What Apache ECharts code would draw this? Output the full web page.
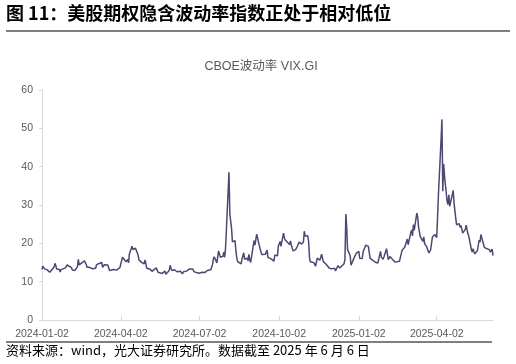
<!DOCTYPE html>
<html>
<head>
<meta charset="utf-8">
<script src="https://cdn.jsdelivr.net/npm/echarts@6/dist/echarts.min.js"></script>
<style>
html,body{margin:0;padding:0;background:#fff;}
#c{width:516px;height:364px;}
</style>
</head>
<body>
<div id="c"></div>
<script>
const heading = '图 11：美股期权隐含波动率指数正处于相对低位';
const chartTitle = 'CBOE波动率 VIX.GI';
const footnote = '资料来源：wind，光大证券研究所。数据截至 2025 年 6 月 6 日';
const tickDates = ['2024-01-02','2024-04-02','2024-07-02','2024-10-02','2025-01-02','2025-04-02'];
const yTicks = [0, 10, 20, 30, 40, 50, 60];

const dates = [
'2024-01-02','2024-01-03','2024-01-04','2024-01-05','2024-01-08','2024-01-09','2024-01-10','2024-01-11','2024-01-12','2024-01-16','2024-01-17','2024-01-18','2024-01-19','2024-01-22','2024-01-23','2024-01-24','2024-01-25','2024-01-26','2024-01-29','2024-01-30','2024-01-31',
'2024-02-01','2024-02-02','2024-02-05','2024-02-06','2024-02-07','2024-02-08','2024-02-09','2024-02-12','2024-02-13','2024-02-14','2024-02-15','2024-02-16','2024-02-20','2024-02-21','2024-02-22','2024-02-23','2024-02-26','2024-02-27','2024-02-28','2024-02-29',
'2024-03-01','2024-03-04','2024-03-05','2024-03-06','2024-03-07','2024-03-08','2024-03-11','2024-03-12','2024-03-13','2024-03-14','2024-03-15','2024-03-18','2024-03-19','2024-03-20','2024-03-21','2024-03-22','2024-03-25','2024-03-26','2024-03-27','2024-03-28',
'2024-04-01','2024-04-02','2024-04-03','2024-04-04','2024-04-05','2024-04-08','2024-04-09','2024-04-10','2024-04-11','2024-04-12','2024-04-15','2024-04-16','2024-04-17','2024-04-18','2024-04-19','2024-04-22','2024-04-23','2024-04-24','2024-04-25','2024-04-26','2024-04-29','2024-04-30',
'2024-05-01','2024-05-02','2024-05-03','2024-05-06','2024-05-07','2024-05-08','2024-05-09','2024-05-10','2024-05-13','2024-05-14','2024-05-15','2024-05-16','2024-05-17','2024-05-20','2024-05-21','2024-05-22','2024-05-23','2024-05-24','2024-05-28','2024-05-29','2024-05-30','2024-05-31',
'2024-06-03','2024-06-04','2024-06-05','2024-06-06','2024-06-07','2024-06-10','2024-06-11','2024-06-12','2024-06-13','2024-06-14','2024-06-17','2024-06-18','2024-06-20','2024-06-21','2024-06-24','2024-06-25','2024-06-26','2024-06-27','2024-06-28',
'2024-07-01','2024-07-02','2024-07-03','2024-07-05','2024-07-08','2024-07-09','2024-07-10','2024-07-11','2024-07-12','2024-07-15','2024-07-16','2024-07-17','2024-07-18','2024-07-19','2024-07-22','2024-07-23','2024-07-24','2024-07-25','2024-07-26','2024-07-29','2024-07-30','2024-07-31',
'2024-08-01','2024-08-02','2024-08-05','2024-08-06','2024-08-07','2024-08-08','2024-08-09','2024-08-12','2024-08-13','2024-08-14','2024-08-15','2024-08-16','2024-08-19','2024-08-20','2024-08-21','2024-08-22','2024-08-23','2024-08-26','2024-08-27','2024-08-28','2024-08-29','2024-08-30',
'2024-09-03','2024-09-04','2024-09-05','2024-09-06','2024-09-09','2024-09-10','2024-09-11','2024-09-12','2024-09-13','2024-09-16','2024-09-17','2024-09-18','2024-09-19','2024-09-20','2024-09-23','2024-09-24','2024-09-25','2024-09-26','2024-09-27','2024-09-30',
'2024-10-01','2024-10-02','2024-10-03','2024-10-04','2024-10-07','2024-10-08','2024-10-09','2024-10-10','2024-10-11','2024-10-14','2024-10-15','2024-10-16','2024-10-17','2024-10-18','2024-10-21','2024-10-22','2024-10-23','2024-10-24','2024-10-25','2024-10-28','2024-10-29','2024-10-30','2024-10-31',
'2024-11-01','2024-11-04','2024-11-05','2024-11-06','2024-11-07','2024-11-08','2024-11-11','2024-11-12','2024-11-13','2024-11-14','2024-11-15','2024-11-18','2024-11-19','2024-11-20','2024-11-21','2024-11-22','2024-11-25','2024-11-26','2024-11-27','2024-11-29',
'2024-12-02','2024-12-03','2024-12-04','2024-12-05','2024-12-06','2024-12-09','2024-12-10','2024-12-11','2024-12-12','2024-12-13','2024-12-16','2024-12-17','2024-12-18','2024-12-19','2024-12-20','2024-12-23','2024-12-24','2024-12-26','2024-12-27','2024-12-30','2024-12-31',
'2025-01-02','2025-01-03','2025-01-06','2025-01-07','2025-01-08','2025-01-10','2025-01-13','2025-01-14','2025-01-15','2025-01-16','2025-01-17','2025-01-21','2025-01-22','2025-01-23','2025-01-24','2025-01-27','2025-01-28','2025-01-29','2025-01-30','2025-01-31',
'2025-02-03','2025-02-04','2025-02-05','2025-02-06','2025-02-07','2025-02-10','2025-02-11','2025-02-12','2025-02-13','2025-02-14','2025-02-18','2025-02-19','2025-02-20','2025-02-21','2025-02-24','2025-02-25','2025-02-26','2025-02-27','2025-02-28',
'2025-03-03','2025-03-04','2025-03-05','2025-03-06','2025-03-07','2025-03-10','2025-03-11','2025-03-12','2025-03-13','2025-03-14','2025-03-17','2025-03-18','2025-03-19','2025-03-20','2025-03-21','2025-03-24','2025-03-25','2025-03-26','2025-03-27','2025-03-28','2025-03-31',
'2025-04-01','2025-04-02','2025-04-03','2025-04-04','2025-04-07','2025-04-08','2025-04-09','2025-04-10','2025-04-11','2025-04-14','2025-04-15','2025-04-16','2025-04-17','2025-04-21','2025-04-22','2025-04-23','2025-04-24','2025-04-25','2025-04-28','2025-04-29','2025-04-30',
'2025-05-01','2025-05-02','2025-05-05','2025-05-06','2025-05-07','2025-05-08','2025-05-09','2025-05-12','2025-05-13','2025-05-14','2025-05-15','2025-05-16','2025-05-19','2025-05-20','2025-05-21','2025-05-22','2025-05-23','2025-05-27','2025-05-28','2025-05-29','2025-05-30',
'2025-06-02','2025-06-03','2025-06-04','2025-06-05','2025-06-06'
];

const vix = [
13.20,14.04,14.13,13.35,13.08,12.76,12.69,12.44,12.70,13.84,14.79,14.13,13.30,13.19,12.55,13.14,13.45,13.26,13.60,13.31,14.35,
13.88,13.85,13.67,13.06,12.83,12.79,12.93,13.93,15.85,14.38,14.01,14.24,15.42,15.34,14.54,13.75,13.74,13.43,13.84,13.40,
13.11,13.49,14.46,14.50,14.44,14.74,15.00,13.75,13.75,14.40,14.41,14.33,13.82,12.92,13.06,13.06,13.19,13.24,12.78,13.01,
13.65,14.61,14.33,16.35,16.03,15.19,14.98,15.80,14.91,17.31,19.23,18.40,18.21,18.00,18.71,16.94,15.69,15.97,15.37,15.03,14.67,15.65,
14.68,13.49,13.49,13.23,13.23,12.69,12.55,12.55,13.60,13.42,12.45,12.42,11.99,12.15,11.86,12.29,12.77,11.93,12.92,14.28,13.52,12.92,
13.11,13.06,12.63,12.58,12.22,12.74,12.85,12.04,11.94,12.66,12.75,12.30,13.28,13.20,13.33,12.84,12.55,12.24,12.44,
12.22,12.03,12.09,12.48,12.37,12.51,12.85,12.91,12.46,13.12,13.19,14.51,15.93,16.52,14.91,14.72,18.04,18.46,16.39,16.60,17.69,16.36,
18.59,23.39,38.57,27.71,27.85,23.79,20.37,20.71,18.12,16.19,15.23,14.80,14.65,15.88,16.27,17.55,15.86,16.15,15.43,17.11,15.65,15.00,
20.72,19.55,19.90,22.38,19.45,19.08,17.69,17.07,16.56,17.14,17.61,18.23,16.33,16.15,15.89,15.39,15.41,15.37,16.96,16.73,
19.26,18.90,20.49,19.21,22.64,21.42,20.86,20.93,20.46,19.70,20.64,19.58,19.11,18.03,18.37,18.20,19.24,19.08,20.33,19.80,19.34,20.35,23.16,
21.88,21.98,20.49,16.27,15.20,14.94,14.97,14.71,14.02,14.31,16.14,15.58,16.35,17.16,16.87,15.24,14.60,14.10,14.10,13.51,
13.34,13.30,13.45,13.54,12.77,14.19,14.18,13.58,13.92,13.81,14.69,15.87,27.62,24.09,18.36,16.78,14.27,14.73,15.95,17.40,17.35,
17.93,16.13,16.04,17.82,17.70,19.54,19.19,18.71,16.12,16.60,15.97,15.06,15.10,15.02,14.85,17.90,16.41,16.56,15.84,16.43,
18.62,17.21,15.77,15.50,16.54,15.81,16.02,15.89,15.10,14.77,15.35,15.27,15.66,18.21,18.98,19.43,19.10,21.13,19.63,
22.78,23.51,21.93,24.87,23.37,27.86,26.92,24.23,24.66,21.77,20.51,21.70,19.90,19.80,19.28,17.48,17.15,18.33,18.69,21.65,22.28,
21.77,21.51,27.00,33.00,47.00,52.33,33.62,40.72,37.56,30.89,30.12,32.64,29.65,33.82,30.57,28.45,26.47,24.84,25.15,24.17,24.70,
24.60,22.68,23.64,24.76,23.55,22.48,21.90,18.39,17.72,18.62,17.83,17.24,18.14,18.09,20.87,20.28,22.29,18.96,19.31,19.18,18.57,
18.36,17.69,17.61,18.48,16.77
];

function ts(s){ const p = s.split('-').map(Number); return Date.UTC(p[0], p[1]-1, p[2]); }
function pad(n){ return n < 10 ? '0' + n : '' + n; }
function fmt(v){ const d = new Date(v); return d.getUTCFullYear() + '-' + pad(d.getUTCMonth()+1) + '-' + pad(d.getUTCDate()); }

const seriesData = dates.map((d, i) => [ts(d), vix[i]]);
const tickTs = tickDates.map(ts);

const chart = echarts.init(document.getElementById('c'), null, {renderer: 'canvas'});
const cjk = '"Noto Sans CJK SC", "Liberation Sans", sans-serif';
const lat = '"Liberation Sans", Arial, "Noto Sans CJK SC", sans-serif';

chart.setOption({
  animation: false,
  backgroundColor: '#ffffff',
  title: {
    text: chartTitle,
    left: 256, top: 55, textAlign: 'center',
    textStyle: {fontFamily: lat, fontSize: 12.5, fontWeight: 'normal', color: '#595959'}
  },
  grid: {left: 42, right: 23, top: 90, bottom: 44, containLabel: false},
  xAxis: {
    type: 'value',
    min: ts(dates[0]), max: ts(dates[dates.length-1]),
    axisLine: {show: true, lineStyle: {color: '#d9d9d9', width: 1}},
    axisTick: {show: true, inside: true, length: 4, customValues: tickTs, lineStyle: {color: '#d9d9d9'}},
    axisLabel: {customValues: tickTs, formatter: fmt, fontFamily: lat, fontSize: 10.5, color: '#595959', margin: 9, showMinLabel: true, showMaxLabel: true, hideOverlap: false},
    splitLine: {show: false}
  },
  yAxis: {
    type: 'value', min: yTicks[0], max: yTicks[yTicks.length-1], interval: 10,
    axisLine: {show: true, lineStyle: {color: '#d9d9d9', width: 1}},
    axisTick: {show: true, length: 3, lineStyle: {color: '#d9d9d9'}},
    axisLabel: {fontFamily: lat, fontSize: 10.5, color: '#595959', margin: 9},
    splitLine: {show: false}
  },
  series: [{
    type: 'line', data: seriesData, showSymbol: false, symbol: 'none',
    lineStyle: {color: '#4b4872', width: 1.5}
  }],
  graphic: [
    {type: 'text', left: 6, top: 4, style: {text: heading, fontFamily: cjk, fontSize: 18, fontWeight: 'bold', fill: '#000'}},
    {type: 'line', shape: {x1: 6, y1: 31, x2: 510, y2: 31}, style: {stroke: '#000', lineWidth: 1.2}},
    {type: 'line', shape: {x1: 6, y1: 342, x2: 492, y2: 342}, style: {stroke: '#000', lineWidth: 1}},
    {type: 'text', left: 6, top: 344, style: {text: footnote, fontFamily: cjk, fontSize: 13, fill: '#000'}}
  ]
});
</script>
</body>
</html>
